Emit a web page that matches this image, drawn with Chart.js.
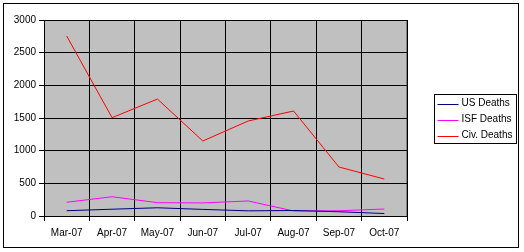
<!DOCTYPE html>
<html><head><meta charset="utf-8">
<script src="https://cdn.jsdelivr.net/npm/chart.js@4/dist/chart.umd.min.js"></script>
<style>html,body{margin:0;padding:0;background:#fff}#wrap{width:524px;height:252px;position:relative}</style>
</head><body><div id="wrap"><canvas id="c" width="524" height="252"></canvas></div>
<script>
const categories = ["Mar-07","Apr-07","May-07","Jun-07","Jul-07","Aug-07","Sep-07","Oct-07"];
const usDeaths  = [81, 104, 126, 101, 79, 84, 65, 38];
const isfDeaths = [210, 295, 204, 200, 230, 77, 80, 107];
const civDeaths = [2755, 1505, 1790, 1148, 1454, 1607, 750, 566];
const seriesNames = ["US Deaths","ISF Deaths","Civ. Deaths"];
const seriesColors = ["#000080","#FF00FF","#FF0000"];
const yTicks = [0,500,1000,1500,2000,2500,3000];

const FONT = "Liberation Sans, Arial, sans-serif";

const decor = {
  id: 'decor',
  beforeDraw(chart) {
    const {ctx, chartArea: a} = chart;
    ctx.save();
    ctx.fillStyle = '#fff';
    ctx.fillRect(0,0,chart.width,chart.height);
    ctx.fillStyle = '#C0C0C0';
    ctx.fillRect(a.left, a.top, a.right-a.left, a.bottom-a.top);
    ctx.strokeStyle = '#808080';
    ctx.lineWidth = 1;
    ctx.strokeRect(a.left+0.5, a.top+0.5, a.right-a.left-1, a.bottom-a.top);
    ctx.restore();
  },
  afterDraw(chart) {
    const {ctx} = chart;
    ctx.save();
    ctx.strokeStyle = '#000';
    ctx.lineWidth = 1;
    ctx.strokeRect(3.5, 3.5, 515, 244);
    const lx = 434.5, ly = 94.5, lw = 82, lh = 49;
    ctx.fillStyle = '#fff';
    ctx.fillRect(lx, ly, lw, lh);
    ctx.strokeRect(lx, ly, lw, lh);
    ctx.font = '10px ' + FONT;
    ctx.textBaseline = 'middle';
    ctx.textAlign = 'left';
    chart.data.datasets.forEach((ds, i) => {
      const y = ly + 9 + i*16;
      ctx.strokeStyle = ds.borderColor;
      ctx.beginPath();
      ctx.moveTo(lx+3, Math.round(y)+0.5);
      ctx.lineTo(lx+24, Math.round(y)+0.5);
      ctx.stroke();
      ctx.fillStyle = '#000';
      ctx.fillText(ds.label, lx+27, y);
    });
    ctx.restore();
  }
};

new Chart(document.getElementById('c'), {
  type: 'line',
  data: {
    labels: categories,
    datasets: [
      {label: seriesNames[0], data: usDeaths, borderColor: seriesColors[0]},
      {label: seriesNames[1], data: isfDeaths, borderColor: seriesColors[1]},
      {label: seriesNames[2], data: civDeaths, borderColor: seriesColors[2]}
    ].map(d => Object.assign(d, {borderWidth: 1, pointRadius: 0, tension: 0, fill: false}))
  },
  options: {
    responsive: false,
    animation: false,
    devicePixelRatio: 1,
    layout: {padding: {left: 0, top: 20, right: 117, bottom: 0}},
    plugins: {legend: {display: false}, tooltip: {enabled: false}},
    scales: {
      x: {
        offset: true,
        grid: {offset: true, color: '#000', lineWidth: 1, tickLength: 5, drawOnChartArea: true},
        border: {color: '#000', width: 1},
        ticks: {color: '#000', font: {family: FONT, size: 10}, padding: 6, maxRotation: 0, autoSkip: false},
        afterFit(s) { s.height = 36; }
      },
      y: {
        min: 0, max: 3000,
        afterBuildTicks(s) { s.ticks = yTicks.map(v => ({value: v})); },
        grid: {color: '#000', lineWidth: 1, tickLength: 5},
        border: {color: '#000', width: 1},
        ticks: {color: '#000', font: {family: FONT, size: 10}, padding: 3, callback: v => String(v)},
        afterFit(s) { s.width = 44; }
      }
    }
  },
  plugins: [decor]
});
</script></body></html>
